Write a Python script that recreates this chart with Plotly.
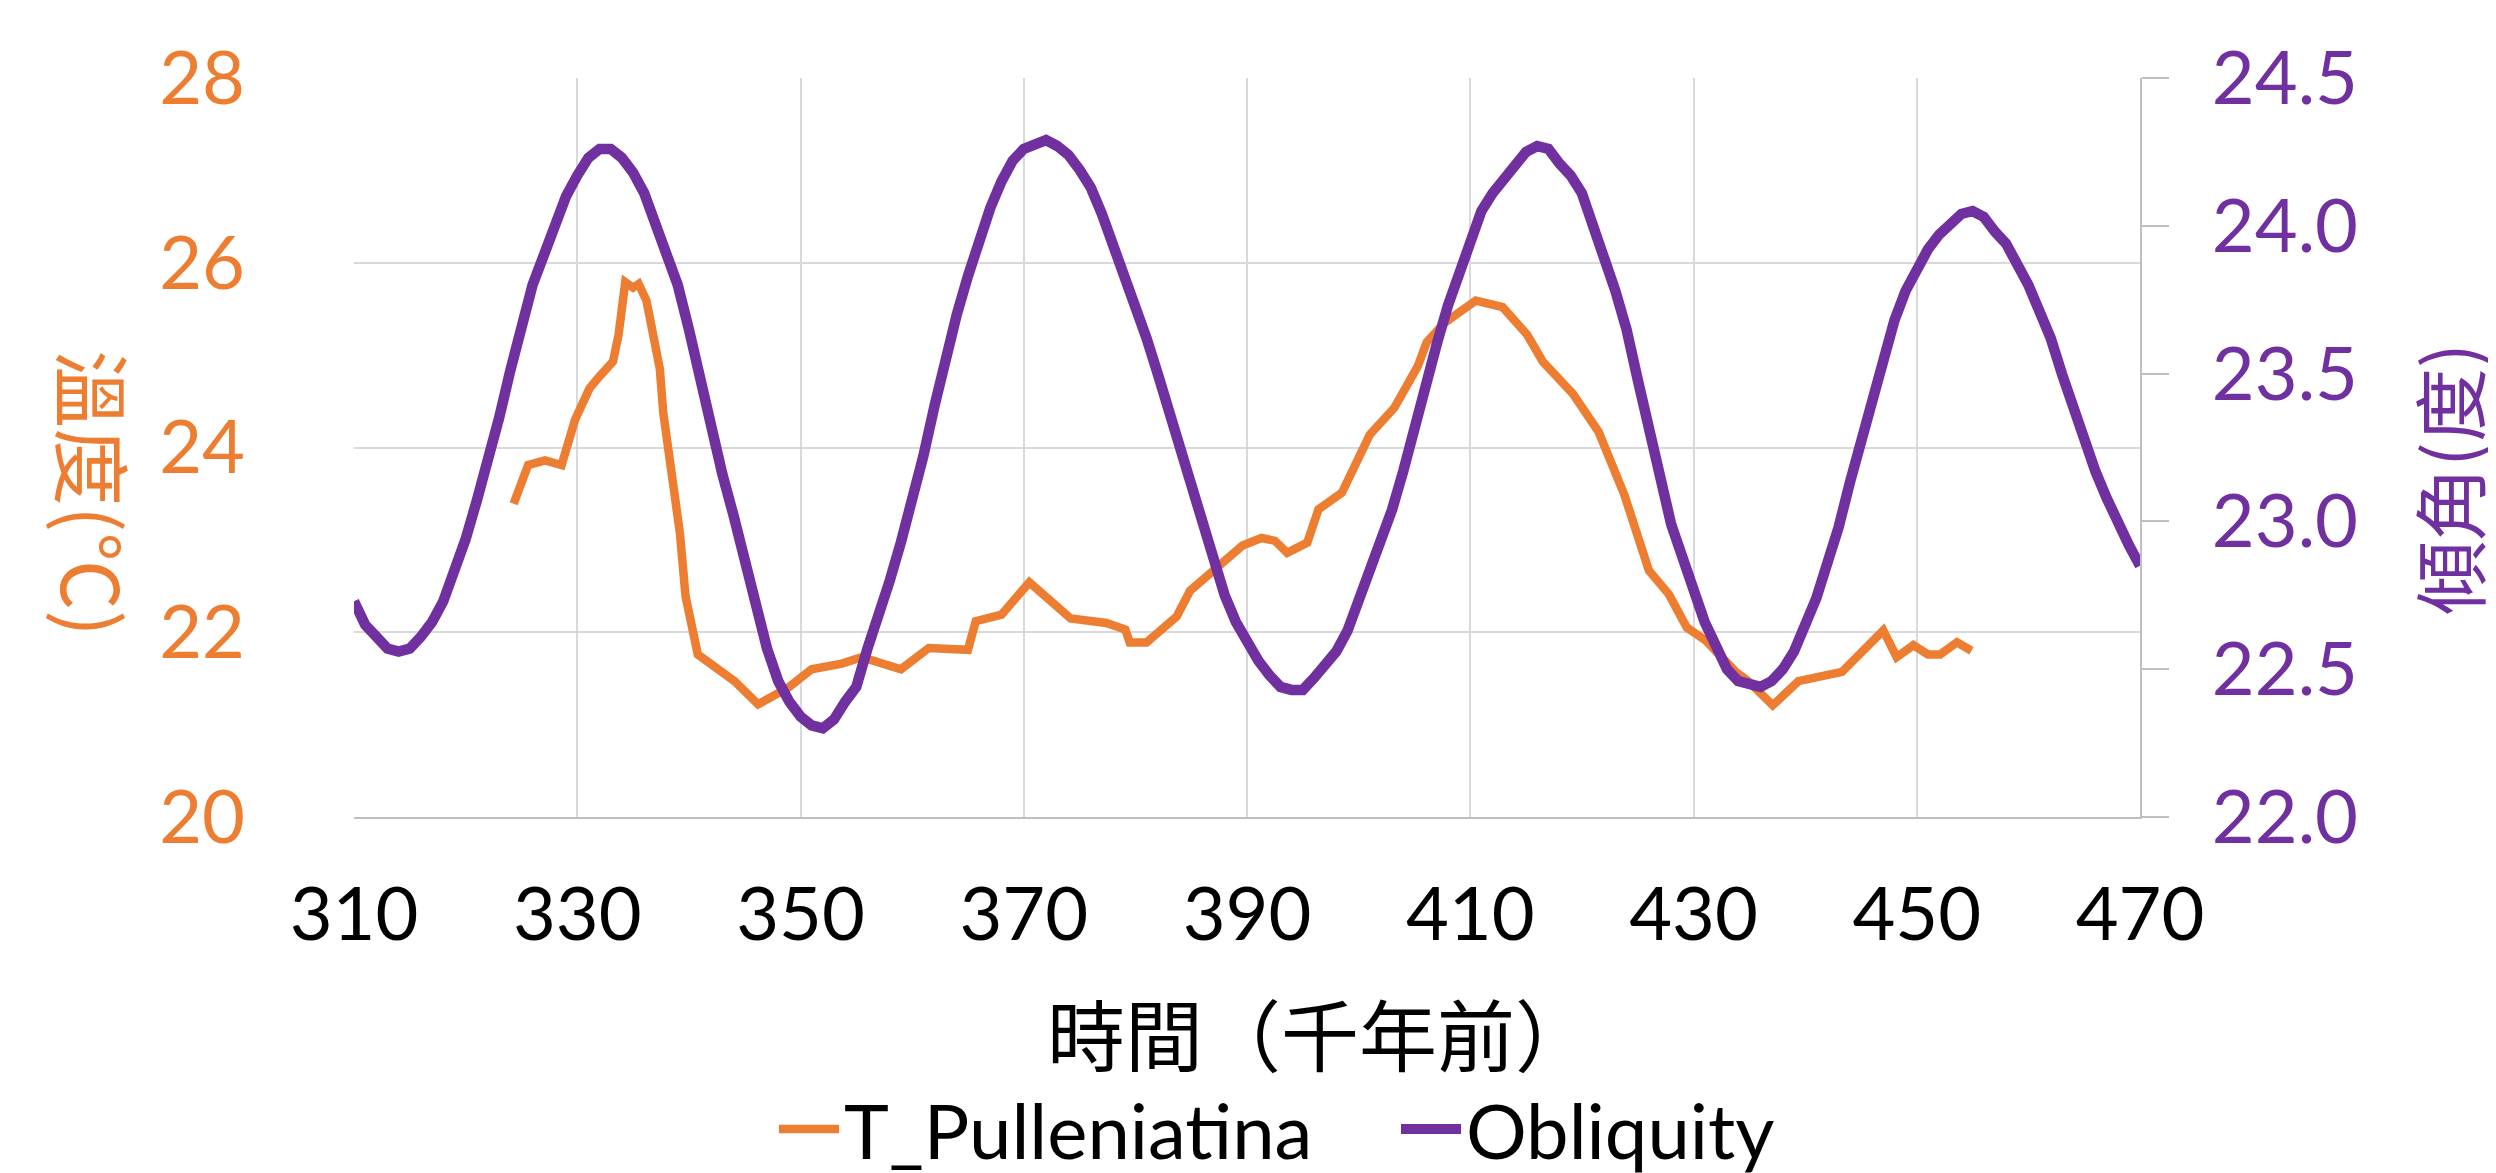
import plotly.graph_objects as go

# ---------------- data ----------------
obl_age = list(range(310, 471))
obl_val = [
    22.73, 22.65, 22.61, 22.57, 22.56, 22.57, 22.61, 22.66, 22.73, 22.83,
    22.94, 23.07, 23.20, 23.35, 23.51, 23.66, 23.80, 23.90, 24.00, 24.10,
    24.17, 24.23, 24.26, 24.26, 24.23, 24.18, 24.11, 24.01, 23.90, 23.80,
    23.65, 23.48, 23.32, 23.16, 23.02, 22.86, 22.71, 22.57, 22.46, 22.39,
    22.34, 22.31, 22.30, 22.33, 22.39, 22.44, 22.57, 22.68, 22.80, 22.93,
    23.07, 23.22, 23.39, 23.55, 23.70, 23.83, 23.96, 24.06, 24.15, 24.22,
    24.26, 24.28, 24.29, 24.27, 24.24, 24.19, 24.13, 24.04, 23.94, 23.84,
    23.73, 23.62, 23.50, 23.37, 23.24, 23.11, 22.98, 22.86, 22.75, 22.66,
    22.59, 22.53, 22.48, 22.44, 22.43, 22.43, 22.47, 22.51, 22.56, 22.63,
    22.73, 22.84, 22.94, 23.04, 23.17, 23.32, 23.47, 23.60, 23.73, 23.84,
    23.95, 24.05, 24.11, 24.16, 24.21, 24.25, 24.27, 24.26, 24.21, 24.17,
    24.11, 24.01, 23.89, 23.78, 23.65, 23.48, 23.32, 23.14, 22.99, 22.88,
    22.77, 22.66, 22.58, 22.50, 22.46, 22.45, 22.44, 22.46, 22.50, 22.56,
    22.65, 22.74, 22.86, 22.98, 23.13, 23.27, 23.40, 23.55, 23.68, 23.78,
    23.86, 23.92, 23.97, 24.01, 24.04, 24.05, 24.03, 23.98, 23.94, 23.87,
    23.80, 23.71, 23.62, 23.50, 23.39, 23.27, 23.17, 23.08, 22.99, 22.92,
    22.85,
]

temp_age = [
    324.3, 325.6, 327.1, 328.6, 329.8, 331.1, 332.0, 333.2, 333.7, 334.3,
    335.0, 335.5, 336.2, 336.8, 337.4, 337.7, 338.6, 339.2, 339.7, 340.8,
    344.1, 346.2, 348.9, 351.0, 353.7, 355.5, 359.0, 361.5, 365.0, 365.7,
    368.0, 370.5, 374.2, 377.4, 379.1, 379.5, 381.0, 383.7, 384.9, 386.8,
    389.6, 391.3, 392.5, 393.6, 395.4, 396.4, 398.5, 401.0, 403.2, 405.3,
    406.1, 407.7, 410.5, 412.9, 415.1, 416.5, 419.2, 421.5, 423.8, 426.0,
    427.8, 429.4, 431.1, 433.8, 434.8, 437.1, 439.4, 443.3, 447.0, 448.2,
    449.7, 451.0, 452.1, 453.6, 454.9,
]
temp_val = [
    23.39, 23.81, 23.86, 23.81, 24.30, 24.64, 24.77, 24.93, 25.22, 25.79,
    25.73, 25.77, 25.59, 25.27, 24.85, 24.38, 23.59, 23.07, 22.39, 21.76,
    21.47, 21.22, 21.40, 21.60, 21.66, 21.73, 21.60, 21.83, 21.81, 22.12,
    22.19, 22.54, 22.15, 22.10, 22.03, 21.89, 21.89, 22.17, 22.45, 22.65,
    22.94, 23.02, 22.99, 22.86, 22.97, 23.33, 23.51, 24.14, 24.43, 24.88,
    25.14, 25.35, 25.59, 25.52, 25.22, 24.93, 24.58, 24.17, 23.49, 22.67,
    22.41, 22.05, 21.91, 21.57, 21.48, 21.21, 21.47, 21.57, 22.02, 21.73,
    21.86, 21.76, 21.76, 21.89, 21.80,
]

x_ticks = [310, 330, 350, 370, 390, 410, 430, 450, 470]
y1_ticks = [20, 22, 24, 26, 28]
y2_ticks = [22.0, 22.5, 23.0, 23.5, 24.0, 24.5]

x_title = "時間（千年前）"
y1_title = "溫度(℃)"
y2_title = "傾角(度)"

ORANGE = "#ED7D31"
PURPLE = "#7030A0"
GRID = "#D9D9D9"
AXIS = "#BFBFBF"
LATIN = "Lato, 'Liberation Sans', sans-serif"
CJK = "'Noto Sans CJK TC', 'Noto Sans CJK SC', sans-serif"
FS = 74

W, H = 2496, 1173
L, R, T, B = 346, 364, 70, 364

fig = go.Figure()
fig.add_trace(go.Scatter(
    x=temp_age, y=temp_val, name="T_Pulleniatina", mode="lines",
    line=dict(color=ORANGE, width=8.5), yaxis="y"))
fig.add_trace(go.Scatter(
    x=obl_age, y=obl_val, name="Obliquity", mode="lines",
    line=dict(color=PURPLE, width=10.5), yaxis="y2"))

pw = W - L - R
ph = H - T - B


def px_x(px):
    return (px - L) / pw


def px_y(py):
    return (H - B - py) / ph


fig.update_layout(
    width=W, height=H,
    margin=dict(l=L, r=R, t=T, b=B, autoexpand=False),
    paper_bgcolor="white", plot_bgcolor="white",
    showlegend=True,
    xaxis=dict(
        range=[310, 470], tickvals=x_ticks, ticktext=[str(v) for v in x_ticks],
        showgrid=True, gridcolor=GRID, gridwidth=2,
        showline=True, linecolor=AXIS, linewidth=2, mirror=False,
        ticks="", zeroline=False,
        tickfont=dict(family=LATIN, size=FS, color="black"),
        ticklabelstandoff=32,
    ),
    yaxis=dict(
        range=[20, 28], tickvals=y1_ticks, ticktext=[str(v) for v in y1_ticks],
        showgrid=True, gridcolor=GRID, gridwidth=2,
        showline=False, ticks="", zeroline=False,
        tickfont=dict(family=LATIN, size=FS, color=ORANGE),
        ticklabelstandoff=108,
    ),
    yaxis2=dict(
        range=[22, 24.5], tickvals=y2_ticks, ticktext=[f"{v:.1f}" for v in y2_ticks],
        overlaying="y", side="right", showgrid=False, zeroline=False,
        showline=True, linecolor=AXIS, linewidth=2,
        ticks="outside", ticklen=27, tickwidth=2, tickcolor=AXIS,
        tickfont=dict(family=LATIN, size=FS, color=PURPLE),
        ticklabelstandoff=28,
    ),
    legend=dict(
        orientation="h", x=px_x(766), xanchor="left", y=px_y(1121), yanchor="middle",
        font=dict(family=LATIN, size=FS + 2, color="black"),
        itemwidth=60, entrywidth=547, entrywidthmode="pixels",
        bgcolor="rgba(0,0,0,0)",
    ),
    annotations=[
        dict(text=x_title, x=px_x(1312), y=px_y(1024), xref="paper", yref="paper",
             showarrow=False, xanchor="center", yanchor="middle",
             font=dict(family=CJK, size=78, color="black")),
        dict(text=y1_title, x=px_x(87), y=px_y(485), xref="paper", yref="paper",
             showarrow=False, xanchor="center", yanchor="middle", textangle=90,
             font=dict(family=CJK, size=78, color=ORANGE)),
        dict(text=y2_title, x=px_x(2438), y=px_y(471), xref="paper", yref="paper",
             showarrow=False, xanchor="center", yanchor="middle", textangle=-90,
             font=dict(family=CJK, size=74, color=PURPLE)),
    ],
)

fig.write_html("out.html")
